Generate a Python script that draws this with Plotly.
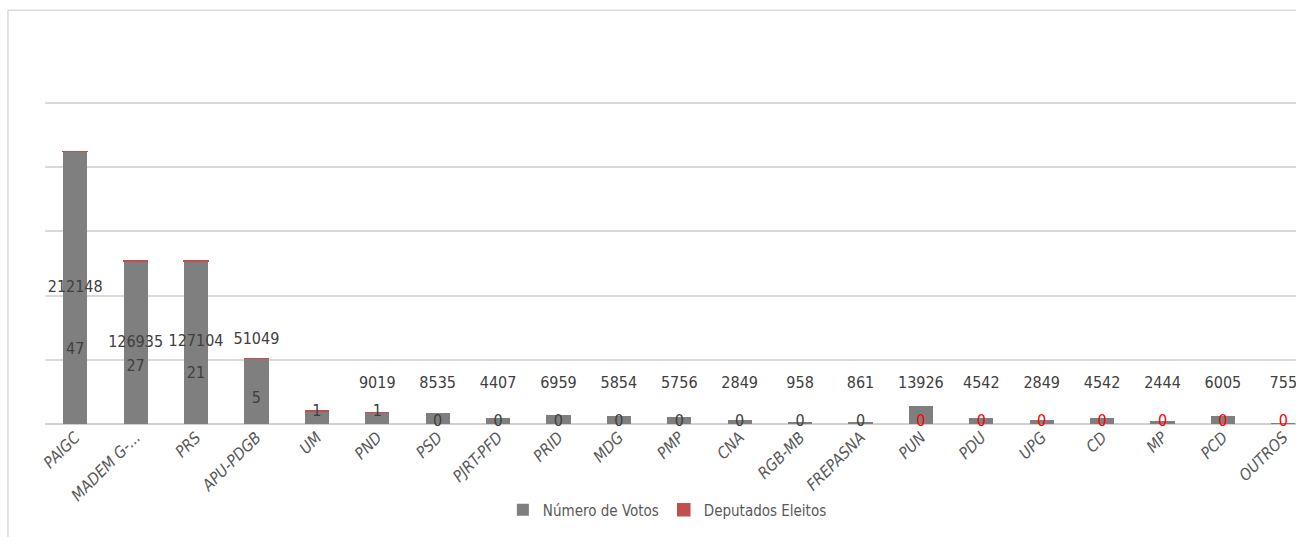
import math
import plotly.graph_objects as go

parties = ["PAIGC", "MADEM G-...", "PRS", "APU-PDGB", "UM", "PND", "PSD", "PJRT-PFD",
           "PRID", "MDG", "PMP", "CNA", "RGB-MB", "FREPASNA", "PUN", "PDU", "UPG",
           "CD", "MP", "PCD", "OUTROS"]
votes = [212148, 126935, 127104, 51049, 10000, 9019, 8535, 4407, 6959, 5854, 5756,
         2849, 958, 861, 13926, 4542, 2849, 4542, 2444, 6005, 755]
deputies = [47, 27, 21, 5, 1, 1, 0, 0, 0, 0, 0, 0, 0, 0, 0, 0, 0, 0, 0, 0, 0]
vote_labels = [str(v) for v in votes]
vote_labels[parties.index("UM")] = ""  # no vote label shown for UM

FONT = "DejaVu Sans Condensed, Liberation Sans Narrow, Arial Narrow, sans-serif"
GREY = "#7f7f7f"
RED = "#c0504d"
TXT = "#404040"

n = len(parties)
idx = list(range(n))

fig = go.Figure()
fig.add_trace(go.Bar(
    x=idx, y=votes, name="Número de Votos", marker_color=GREY, width=0.4,
    marker_line_width=0, hoverinfo="skip"))
fig.add_trace(go.Bar(
    x=idx, y=deputies, name="Deputados Eleitos", marker_color=RED, width=0.4,
    marker_line_color=RED,
    marker_line_width=[1.5 if d > 0 else 0 for d in deputies], hoverinfo="skip"))

# vote labels
vote_y = [v / 2 if v > 100000 else max(v + 14000, 31000) for v in votes]
fig.add_trace(go.Scatter(
    x=idx, y=vote_y, mode="text", text=vote_labels, textposition="middle center",
    textfont=dict(family=FONT, size=16, color=TXT), showlegend=False,
    cliponaxis=False, hoverinfo="skip"))

# deputies labels
first_red = parties.index("PUN")
dep_colors = [TXT if i < first_red else "#ff0000" for i in idx]
dep_y = [1500 + 8200 * math.sqrt(d) for d in deputies]
fig.add_trace(go.Scatter(
    x=idx, y=dep_y, mode="text", text=[str(d) for d in deputies],
    textposition="middle center",
    textfont=dict(family=FONT, size=16, color=dep_colors), showlegend=False,
    cliponaxis=False, hoverinfo="skip"))

fig.update_layout(
    width=1296, height=537,
    margin=dict(l=45, r=0, t=60, b=113, autoexpand=False),
    barmode="stack", bargap=0.6,
    plot_bgcolor="white", paper_bgcolor="white",
    font=dict(family=FONT, color=TXT),
    legend=dict(orientation="h", x=0.366, y=-0.236, xanchor="left", yanchor="middle",
                font=dict(family=FONT, size=15, color="#595959"),
                bgcolor="rgba(0,0,0,0)", traceorder="normal"),
    xaxis=dict(range=[-0.5, 20.21], tickmode="array", tickvals=idx, ticktext=parties,
               tickangle=-45, showgrid=False, zeroline=False, showline=False,
               ticks="", automargin=False,
               tickfont=dict(family=FONT, size=16, color="#595959", style="italic")),
    yaxis=dict(range=[0, 283500], dtick=50000, showticklabels=False,
               gridcolor="#d9d9d9", gridwidth=1.5, zeroline=True,
               zerolinecolor="#d0d0d0", zerolinewidth=2, automargin=False),
    shapes=[
        dict(type="line", xref="paper", yref="paper", x0=-0.0296, x1=-0.0296,
             y0=1.137, y1=-0.32, line=dict(color="#d9d9d9", width=1.5)),
        dict(type="line", xref="paper", yref="paper", x0=-0.0296, x1=1.01,
             y0=1.137, y1=1.137, line=dict(color="#d9d9d9", width=1.5)),
    ],
)

fig.write_html("out.html")
